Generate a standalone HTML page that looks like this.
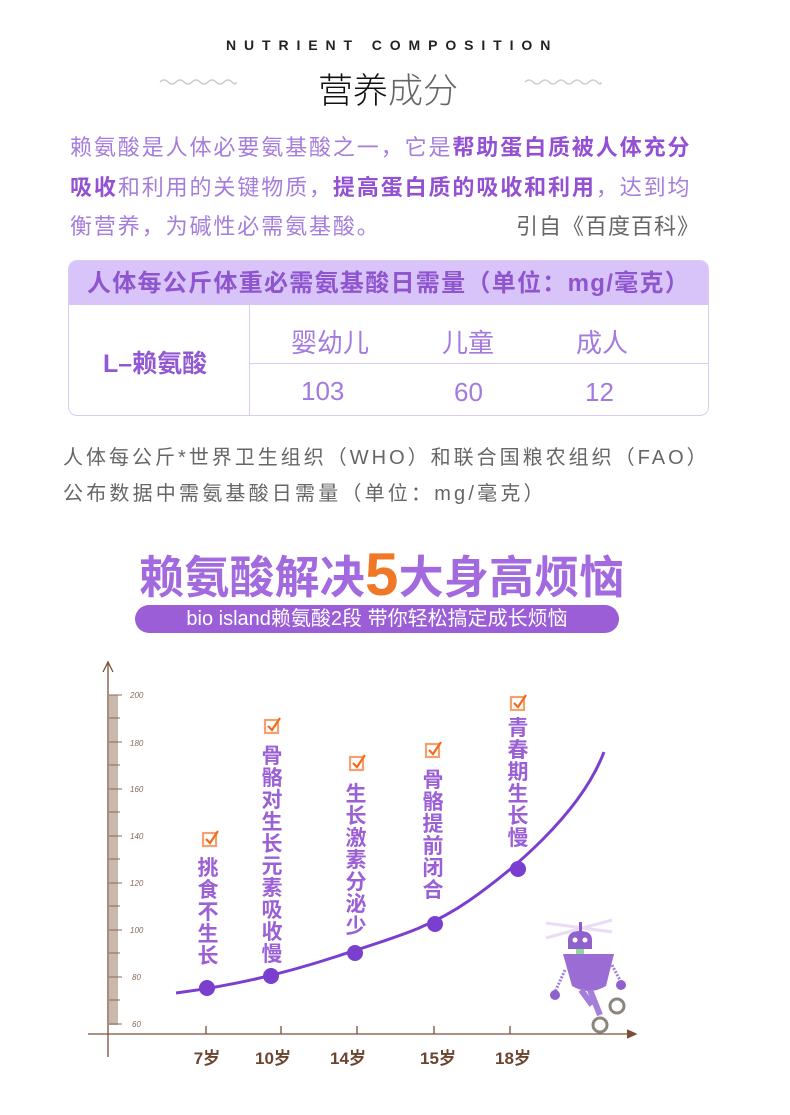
<!DOCTYPE html>
<html><head><meta charset="utf-8"><style>
body{margin:0;width:790px;height:1115px;background:#fff;position:relative;overflow:hidden;font-family:"Liberation Sans","Noto Sans CJK SC",sans-serif}
.a{position:absolute;white-space:nowrap}
.p{left:70px;font-size:22px;color:#a57ddb;letter-spacing:1.9px}
.p b{color:#9450d2}
.vt{position:absolute;width:24px;font-size:21px;font-weight:bold;color:#9b5fd6;line-height:22px;text-align:center;white-space:normal}
</style></head><body>
<div class="a" style="left:226px;top:37px;font-size:14px;font-weight:bold;letter-spacing:7.9px;color:#222">NUTRIENT COMPOSITION</div>
<div class="a" style="left:318px;top:63px;font-size:35px;color:#111;font-weight:300">营养<span style="color:#666">成分</span></div>
<svg class="a" style="left:0;top:0" width="790" height="120"><path d="M160 82 q4-4 8 0 t8 0 t8 0 t8 0 t8 0 t8 0 t8 0 t8 0 t8 0 t4 0" fill="none" stroke="#ccc" stroke-width="1.5"/><path d="M525 82 q4-4 8 0 t8 0 t8 0 t8 0 t8 0 t8 0 t8 0 t8 0 t8 0 t4 0" fill="none" stroke="#ccc" stroke-width="1.5"/></svg>
<div class="a p" style="top:130px">赖氨酸是人体必要氨基酸之一，它是<b>帮助蛋白质被人体充分</b></div>
<div class="a p" style="top:170px"><b>吸收</b>和利用的关键物质，<b>提高蛋白质的吸收和利用</b>，达到均</div>
<div class="a p" style="top:209px">衡营养，为碱性必需氨基酸。</div>
<div class="a" style="left:516px;top:209px;font-size:22px;color:#666;letter-spacing:1px">引自《百度百科》</div>
<div class="a" style="left:68px;top:260px;width:639px;height:154px;border:1px solid #dccbf5;border-radius:9px;overflow:hidden">
 <div style="height:44px;background:#d8c4f8;color:#8f55cf;font-size:24px;font-weight:bold;text-align:center;line-height:46px;letter-spacing:1.3px">人体每公斤体重必需氨基酸日需量（单位：mg/毫克）</div>
 <div style="position:absolute;left:180px;top:44px;bottom:0;border-left:1px solid #dccbf5"></div>
 <div style="position:absolute;left:180px;right:0;top:102px;border-top:1px solid #dccbf5"></div>
 <div class="a" style="left:34px;top:83px;font-size:25px;font-weight:bold;color:#9258d4">L–赖氨酸</div>
 <div class="a" style="left:222px;top:62px;font-size:26px;color:#a37ade">婴幼儿</div>
 <div class="a" style="left:373px;top:62px;font-size:26px;color:#a37ade">儿童</div>
 <div class="a" style="left:507px;top:62px;font-size:26px;color:#a37ade">成人</div>
 <div class="a" style="left:232px;top:115px;font-size:26px;color:#a37ade">103</div>
 <div class="a" style="left:385px;top:116px;font-size:26px;color:#a37ade">60</div>
 <div class="a" style="left:516px;top:116px;font-size:26px;color:#a37ade">12</div>
</div>
<div class="a" style="left:63px;top:441px;font-size:20px;color:#666;letter-spacing:3px">人体每公斤*世界卫生组织（WHO）和联合国粮农组织（FAO）</div>
<div class="a" style="left:63px;top:477px;font-size:20px;color:#666;letter-spacing:3.2px">公布数据中需氨基酸日需量（单位：mg/毫克）</div>
<div class="a" style="left:139px;top:548px;font-size:45px;font-weight:bold;color:#a36adf;letter-spacing:0.2px;line-height:50px">赖氨酸解决<span style="color:#f07726;font-size:60px;position:relative;top:2px">5</span>大身高烦恼</div>
<div class="a" style="left:135px;top:605px;width:484px;height:28px;border-radius:14px;background:#9b5ed7;color:#fff;font-size:20px;text-align:center;line-height:28px">bio island赖氨酸2段 带你轻松搞定成长烦恼</div>
<svg class="a" style="left:0;top:640px" width="790" height="475" font-family="Liberation Sans">
 <g stroke="#7a5038" stroke-width="1.3" fill="none">
  <line x1="108" y1="22" x2="108" y2="417"/><path d="M103 32 L108 22 L113 32"/>
  <line x1="88" y1="394" x2="635" y2="394"/><path d="M627 390 L636 394 L627 398" fill="#7a5038"/>
  <line x1="206" y1="386" x2="206" y2="394"/><line x1="281" y1="386" x2="281" y2="394"/><line x1="357" y1="386" x2="357" y2="394"/><line x1="434" y1="386" x2="434" y2="394"/><line x1="510" y1="386" x2="510" y2="394"/>
 </g>
 <rect x="109" y="55" width="9" height="330" fill="#c9b9ac"/>
 <g stroke="#8a6a58" stroke-width="1">
  <line x1="109" y1="55" x2="122" y2="55"/><line x1="109" y1="102" x2="122" y2="102"/><line x1="109" y1="149" x2="122" y2="149"/><line x1="109" y1="196" x2="122" y2="196"/><line x1="109" y1="243" x2="122" y2="243"/><line x1="109" y1="290" x2="122" y2="290"/><line x1="109" y1="337" x2="122" y2="337"/><line x1="109" y1="384" x2="122" y2="384"/>
  <line x1="109" y1="78" x2="120" y2="78"/><line x1="109" y1="125" x2="120" y2="125"/><line x1="109" y1="172" x2="120" y2="172"/><line x1="109" y1="219" x2="120" y2="219"/><line x1="109" y1="266" x2="120" y2="266"/><line x1="109" y1="313" x2="120" y2="313"/><line x1="109" y1="360" x2="120" y2="360"/>
 </g>
 <g font-size="8" fill="#8a6a58" font-style="italic">
  <text x="130" y="58">200</text><text x="130" y="106">180</text><text x="130" y="152">160</text><text x="130" y="199">140</text><text x="130" y="246">120</text><text x="130" y="293">100</text><text x="132" y="340">80</text><text x="132" y="387">60</text>
 </g>
 <g font-size="17" font-weight="bold" fill="#6b4530" text-anchor="middle">
  <text x="207" y="424">7岁</text><text x="273" y="424">10岁</text><text x="348" y="424">14岁</text><text x="438" y="424">15岁</text><text x="513" y="424">18岁</text>
 </g>
 <path d="M176 353 C230 346 280 335 338 316 S 430 288 470 260 S 580 175 604 112" fill="none" stroke="#7b3fcf" stroke-width="3"/>
 <g fill="#7b3fcf"><circle cx="207" cy="348" r="8"/><circle cx="271" cy="336" r="8"/><circle cx="355" cy="313" r="8"/><circle cx="435" cy="284" r="8"/><circle cx="518" cy="229" r="8"/></g>
 <g fill="none" stroke-width="2.2">
  <g transform="translate(203,193)"><rect width="13" height="13" stroke="#f6a070"/><path d="M3 6 L7 10 L15 -2" stroke="#f36a1a"/></g>
  <g transform="translate(265,80)"><rect width="13" height="13" stroke="#f6a070"/><path d="M3 6 L7 10 L15 -2" stroke="#f36a1a"/></g>
  <g transform="translate(350,117)"><rect width="13" height="13" stroke="#f6a070"/><path d="M3 6 L7 10 L15 -2" stroke="#f36a1a"/></g>
  <g transform="translate(426,104)"><rect width="13" height="13" stroke="#f6a070"/><path d="M3 6 L7 10 L15 -2" stroke="#f36a1a"/></g>
  <g transform="translate(511,57)"><rect width="13" height="13" stroke="#f6a070"/><path d="M3 6 L7 10 L15 -2" stroke="#f36a1a"/></g>
 </g>
 <g>
  <line x1="546" y1="298" x2="612" y2="280" stroke="#eadcf6" stroke-width="3"/><line x1="546" y1="283" x2="612" y2="292" stroke="#eadcf6" stroke-width="3"/>
  <rect x="579" y="282" width="3" height="10" fill="#8b5cc8"/>
  <path d="M568 309 L568 300 Q568 291 580 291 Q592 291 592 300 L592 309 Z" fill="#9060cc"/>
  <circle cx="575" cy="300" r="2.5" fill="#fff"/><circle cx="585" cy="300" r="2.5" fill="#fff"/>
  <rect x="576" y="309" width="8" height="5" fill="#8fd8a0"/>
  <path d="M563 314 L614 314 L606 346 Q589 356 572 346 Z" fill="#9a6cd4"/>
  <line x1="590" y1="350" x2="600" y2="375" stroke="#a47ed8" stroke-width="6"/><line x1="581" y1="350" x2="592" y2="365" stroke="#a47ed8" stroke-width="6"/>
  <line x1="565" y1="330" x2="555" y2="352" stroke="#a47ed8" stroke-width="3" stroke-dasharray="2 1.5"/><line x1="612" y1="325" x2="621" y2="342" stroke="#a47ed8" stroke-width="3" stroke-dasharray="2 1.5"/>
  <circle cx="617" cy="366" r="7" fill="#fff" stroke="#8c857e" stroke-width="3"/><circle cx="600" cy="385" r="7" fill="#fff" stroke="#8c857e" stroke-width="3"/>
  <circle cx="555" cy="355" r="5" fill="#9060cc"/><circle cx="621" cy="345" r="5" fill="#9060cc"/>
 </g>
</svg>
<div class="vt" style="left:196px;top:858px">挑食不生长</div>
<div class="vt" style="left:260px;top:746px">骨骼对生长元素吸收慢</div>
<div class="vt" style="left:344px;top:784px">生长激素分泌少</div>
<div class="vt" style="left:421px;top:770px">骨骼提前闭合</div>
<div class="vt" style="left:506px;top:718px">青春期生长慢</div>
</body></html>
